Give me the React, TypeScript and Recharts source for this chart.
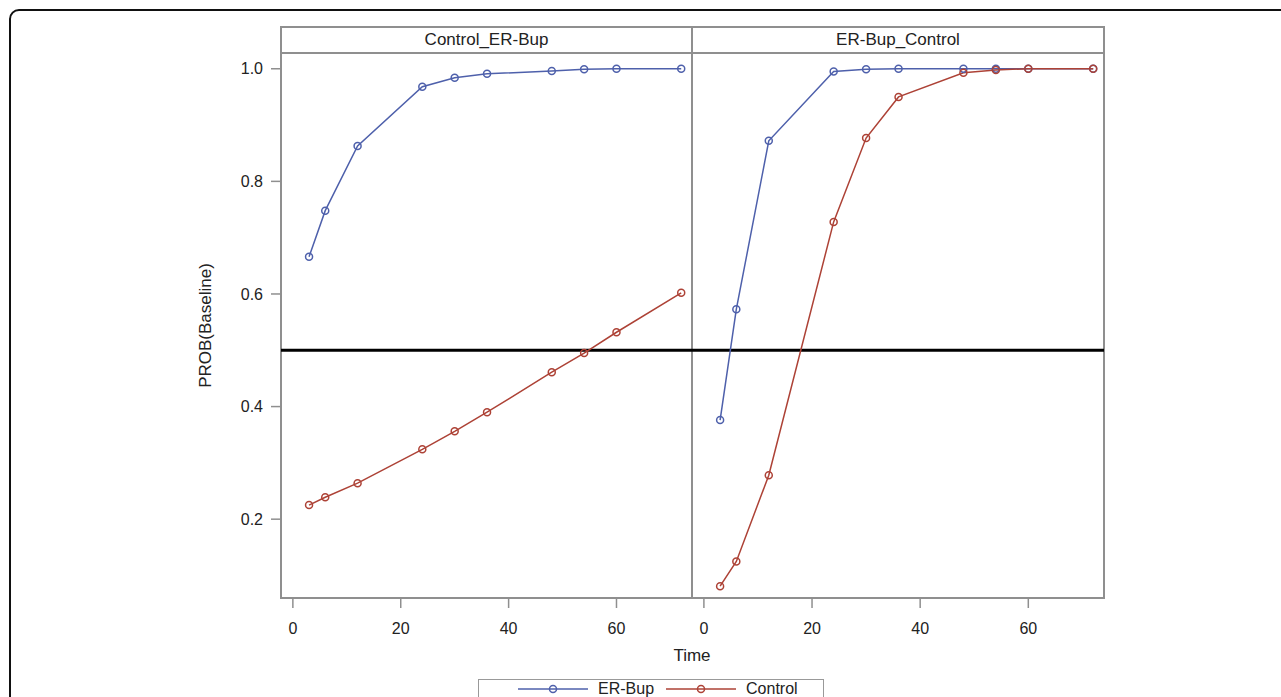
import React from 'react';
import { LineChart, Line, XAxis, YAxis, ReferenceLine } from 'recharts';

const times = [3, 6, 12, 24, 30, 36, 48, 54, 60, 72];
const panelNames = ['Control_ER-Bup', 'ER-Bup_Control'];
const seriesNames = ['ER-Bup', 'Control'];
const leftErBup = [0.666, 0.748, 0.863, 0.968, 0.984, 0.991, 0.996, 0.999, 1.0, 1.0];
const leftControl = [0.225, 0.239, 0.264, 0.324, 0.356, 0.39, 0.461, 0.495, 0.532, 0.602];
const rightErBup = [0.376, 0.573, 0.872, 0.995, 0.999, 1.0, 1.0, 1.0, 1.0, 1.0];
const rightControl = [0.081, 0.125, 0.278, 0.728, 0.877, 0.95, 0.993, 0.998, 1.0, 1.0];
const xTicks = [0, 20, 40, 60];
const yTicks = [0.2, 0.4, 0.6, 0.8, 1.0];
const refValue = 0.5;

const BLUE = '#4e60ab';
const RED = '#ad4236';
const FRAME = '#8f8f8f';
const FONT = '"Liberation Sans", Arial, sans-serif';

const leftData = times.map((t, i) => ({ t, er: leftErBup[i], ctrl: leftControl[i] }));
const rightData = times.map((t, i) => ({ t, er: rightErBup[i], ctrl: rightControl[i] }));

const X_DOMAIN: [number, number] = [-2.2, 74];
const Y_DOMAIN: [number, number] = [0.06, 1.028];

const tickStyle = { fontSize: 16, fill: '#222', fontFamily: FONT };

function Panel({ data, withY }: { data: any[]; withY: boolean }) {
  return (
    <LineChart
      width={withY ? 511 : 412}
      height={600}
      data={data}
      margin={{ top: 0, right: 0, bottom: 0, left: 0 }}
    >
      <XAxis
        type="number"
        dataKey="t"
        domain={X_DOMAIN}
        ticks={xTicks}
        allowDataOverflow
        axisLine={false}
        tickLine={{ stroke: FRAME, strokeWidth: 1.5 }}
        tickSize={10}
        tickMargin={15}
        tick={tickStyle}
        height={55}
      />
      <YAxis
        type="number"
        domain={Y_DOMAIN}
        ticks={yTicks}
        allowDataOverflow
        hide={!withY}
        width={withY ? 100 : 0}
        axisLine={false}
        tickLine={{ stroke: FRAME, strokeWidth: 1.5 }}
        tickSize={10}
        tickMargin={8}
        tick={tickStyle}
        tickFormatter={(v: number) => v.toFixed(1)}
        label={
          withY
            ? {
                value: 'PROB(Baseline)',
                angle: -90,
                position: 'insideLeft',
                offset: 24,
                style: { textAnchor: 'middle', fontSize: 17, fill: '#222', fontFamily: FONT },
              }
            : undefined
        }
      />
      <ReferenceLine y={refValue} stroke="#000" strokeWidth={3} />
      <Line
        dataKey="er"
        stroke={BLUE}
        strokeWidth={1.5}
        dot={{ r: 3.5, fill: 'none', stroke: BLUE, strokeWidth: 1.5 }}
        isAnimationActive={false}
      />
      <Line
        dataKey="ctrl"
        stroke={RED}
        strokeWidth={1.5}
        dot={{ r: 3.5, fill: 'none', stroke: RED, strokeWidth: 1.5 }}
        isAnimationActive={false}
      />
    </LineChart>
  );
}

function LegendItem({ color, label }: { color: string; label: string }) {
  return (
    <div style={{ display: 'flex', alignItems: 'center', marginRight: 12 }}>
      <svg width={70} height={12} style={{ marginRight: 10 }}>
        <line x1={0} y1={6} x2={70} y2={6} stroke={color} strokeWidth={1.5} />
        <circle cx={35} cy={6} r={3.5} fill="none" stroke={color} strokeWidth={1.5} />
      </svg>
      <span>{label}</span>
    </div>
  );
}

export default function App() {
  return (
    <div
      style={{
        position: 'absolute',
        left: 0,
        top: 0,
        width: 1281,
        height: 697,
        overflow: 'hidden',
        background: '#fff',
        fontFamily: FONT,
        color: '#222',
      }}
    >
      {/* outer frame */}
      <div
        style={{
          position: 'absolute',
          left: 9,
          top: 9,
          width: 1400,
          height: 900,
          border: '2px solid #111',
          borderTopLeftRadius: 10,
          boxSizing: 'border-box',
        }}
      />
      {/* panel frames */}
      <div
        style={{
          position: 'absolute',
          left: 280,
          top: 26,
          width: 825,
          height: 573,
          border: `2px solid ${FRAME}`,
          boxSizing: 'border-box',
        }}
      />
      <div style={{ position: 'absolute', left: 280, top: 52, width: 825, height: 2, background: FRAME }} />
      <div style={{ position: 'absolute', left: 691, top: 26, width: 2, height: 573, background: FRAME }} />
      {/* headers */}
      <div
        style={{
          position: 'absolute',
          left: 281,
          top: 27,
          width: 411,
          height: 26,
          lineHeight: '26px',
          textAlign: 'center',
          fontSize: 17,
        }}
      >
        {panelNames[0]}
      </div>
      <div
        style={{
          position: 'absolute',
          left: 692,
          top: 27,
          width: 412,
          height: 26,
          lineHeight: '26px',
          textAlign: 'center',
          fontSize: 17,
        }}
      >
        {panelNames[1]}
      </div>
      {/* charts */}
      <div style={{ position: 'absolute', left: 181, top: 53 }}>
        <Panel data={leftData} withY />
      </div>
      <div style={{ position: 'absolute', left: 692, top: 53 }}>
        <Panel data={rightData} withY={false} />
      </div>
      {/* x label */}
      <div
        style={{
          position: 'absolute',
          left: 592,
          top: 646,
          width: 200,
          textAlign: 'center',
          fontSize: 17,
        }}
      >
        Time
      </div>
      {/* legend */}
      <div
        style={{
          position: 'absolute',
          left: 478,
          top: 679,
          width: 346,
          height: 30,
          border: '1px solid #999',
          boxSizing: 'border-box',
          display: 'flex',
          alignItems: 'flex-start',
          paddingTop: 1,
          paddingLeft: 39,
          fontSize: 16,
          lineHeight: '16px',
        }}
      >
        <LegendItem color={BLUE} label={seriesNames[0]} />
        <LegendItem color={RED} label={seriesNames[1]} />
      </div>
    </div>
  );
}
